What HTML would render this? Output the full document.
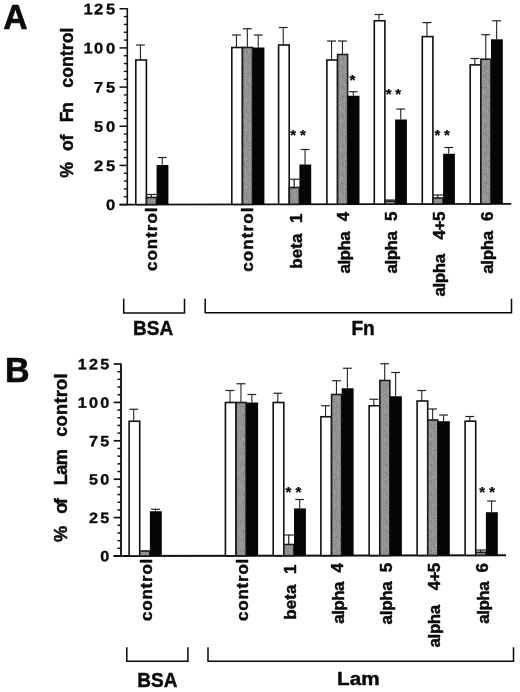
<!DOCTYPE html>
<html><head><meta charset="utf-8"><title>Figure</title>
<style>html,body{margin:0;padding:0;background:#fff;}svg{display:block;filter:blur(0.4px);}text{font-family:"Liberation Sans", Arial, Helvetica, sans-serif;font-weight:bold;fill:#0a0a0a;stroke:#0a0a0a;stroke-width:0.45px;stroke-linejoin:round;}</style>
</head><body>
<svg width="520" height="692" viewBox="0 0 520 692">
<defs><pattern id="gp" width="11" height="29" patternUnits="userSpaceOnUse"><rect width="11" height="29" fill="#949494"/><rect x="1" y="0" width="1" height="1" fill="#787878"/><rect x="2" y="0" width="1" height="1" fill="#7e7e7e"/><rect x="4" y="0" width="1" height="1" fill="#9a9a9a"/><rect x="5" y="0" width="1" height="1" fill="#989898"/><rect x="9" y="0" width="1" height="1" fill="#7e7e7e"/><rect x="2" y="1" width="1" height="1" fill="#989898"/><rect x="3" y="1" width="1" height="1" fill="#9a9a9a"/><rect x="4" y="1" width="1" height="1" fill="#848484"/><rect x="6" y="1" width="1" height="1" fill="#7e7e7e"/><rect x="10" y="1" width="1" height="1" fill="#9a9a9a"/><rect x="2" y="2" width="1" height="1" fill="#787878"/><rect x="0" y="3" width="1" height="1" fill="#9a9a9a"/><rect x="1" y="3" width="1" height="1" fill="#a0a0a0"/><rect x="7" y="3" width="1" height="1" fill="#989898"/><rect x="8" y="3" width="1" height="1" fill="#a6a6a6"/><rect x="9" y="3" width="1" height="1" fill="#868686"/><rect x="1" y="4" width="1" height="1" fill="#a6a6a6"/><rect x="6" y="4" width="1" height="1" fill="#7e7e7e"/><rect x="10" y="4" width="1" height="1" fill="#a0a0a0"/><rect x="6" y="5" width="1" height="1" fill="#868686"/><rect x="10" y="5" width="1" height="1" fill="#a0a0a0"/><rect x="0" y="6" width="1" height="1" fill="#9a9a9a"/><rect x="4" y="6" width="1" height="1" fill="#989898"/><rect x="3" y="7" width="1" height="1" fill="#848484"/><rect x="4" y="7" width="1" height="1" fill="#9a9a9a"/><rect x="5" y="7" width="1" height="1" fill="#848484"/><rect x="7" y="7" width="1" height="1" fill="#989898"/><rect x="0" y="8" width="1" height="1" fill="#787878"/><rect x="10" y="8" width="1" height="1" fill="#9a9a9a"/><rect x="1" y="9" width="1" height="1" fill="#787878"/><rect x="2" y="9" width="1" height="1" fill="#848484"/><rect x="6" y="9" width="1" height="1" fill="#9a9a9a"/><rect x="8" y="9" width="1" height="1" fill="#a0a0a0"/><rect x="1" y="10" width="1" height="1" fill="#868686"/><rect x="5" y="10" width="1" height="1" fill="#7e7e7e"/><rect x="0" y="11" width="1" height="1" fill="#a6a6a6"/><rect x="1" y="11" width="1" height="1" fill="#787878"/><rect x="5" y="11" width="1" height="1" fill="#a0a0a0"/><rect x="5" y="12" width="1" height="1" fill="#9a9a9a"/><rect x="0" y="13" width="1" height="1" fill="#787878"/><rect x="3" y="13" width="1" height="1" fill="#a6a6a6"/><rect x="0" y="14" width="1" height="1" fill="#9a9a9a"/><rect x="4" y="14" width="1" height="1" fill="#a6a6a6"/><rect x="6" y="14" width="1" height="1" fill="#7e7e7e"/><rect x="0" y="15" width="1" height="1" fill="#a6a6a6"/><rect x="1" y="15" width="1" height="1" fill="#989898"/><rect x="4" y="15" width="1" height="1" fill="#848484"/><rect x="5" y="15" width="1" height="1" fill="#848484"/><rect x="6" y="15" width="1" height="1" fill="#868686"/><rect x="8" y="15" width="1" height="1" fill="#868686"/><rect x="1" y="16" width="1" height="1" fill="#787878"/><rect x="4" y="16" width="1" height="1" fill="#848484"/><rect x="8" y="16" width="1" height="1" fill="#a0a0a0"/><rect x="9" y="16" width="1" height="1" fill="#9a9a9a"/><rect x="3" y="17" width="1" height="1" fill="#a6a6a6"/><rect x="10" y="17" width="1" height="1" fill="#848484"/><rect x="1" y="18" width="1" height="1" fill="#868686"/><rect x="5" y="18" width="1" height="1" fill="#848484"/><rect x="2" y="19" width="1" height="1" fill="#787878"/><rect x="4" y="21" width="1" height="1" fill="#7e7e7e"/><rect x="9" y="21" width="1" height="1" fill="#a0a0a0"/><rect x="1" y="22" width="1" height="1" fill="#a6a6a6"/><rect x="2" y="22" width="1" height="1" fill="#848484"/><rect x="4" y="22" width="1" height="1" fill="#7e7e7e"/><rect x="9" y="22" width="1" height="1" fill="#989898"/><rect x="3" y="23" width="1" height="1" fill="#a6a6a6"/><rect x="4" y="23" width="1" height="1" fill="#868686"/><rect x="6" y="23" width="1" height="1" fill="#a6a6a6"/><rect x="10" y="23" width="1" height="1" fill="#9a9a9a"/><rect x="1" y="24" width="1" height="1" fill="#a0a0a0"/><rect x="4" y="24" width="1" height="1" fill="#848484"/><rect x="5" y="25" width="1" height="1" fill="#7e7e7e"/><rect x="7" y="25" width="1" height="1" fill="#7e7e7e"/><rect x="9" y="25" width="1" height="1" fill="#9a9a9a"/><rect x="10" y="25" width="1" height="1" fill="#7e7e7e"/><rect x="5" y="26" width="1" height="1" fill="#9a9a9a"/><rect x="9" y="26" width="1" height="1" fill="#a0a0a0"/><rect x="1" y="27" width="1" height="1" fill="#868686"/><rect x="3" y="27" width="1" height="1" fill="#a6a6a6"/><rect x="6" y="27" width="1" height="1" fill="#787878"/><rect x="9" y="27" width="1" height="1" fill="#868686"/><rect x="8" y="28" width="1" height="1" fill="#9a9a9a"/></pattern></defs>
<rect width="520" height="692" fill="#fff"/>
<text x="3.2" y="28.7" font-size="34.6" style="stroke-width:0.7px" textLength="24.4" lengthAdjust="spacingAndGlyphs">A</text>
<line x1="127.30" y1="8.15" x2="127.30" y2="205.20" stroke="#111" stroke-width="1.6"/>
<line x1="119.60" y1="204.70" x2="511.30" y2="203.87" stroke="#111" stroke-width="1.7"/>
<line x1="119.50" y1="204.60" x2="127.30" y2="204.60" stroke="#111" stroke-width="1.5"/>
<line x1="123.80" y1="196.77" x2="127.30" y2="196.77" stroke="#111" stroke-width="1.35"/>
<line x1="123.80" y1="188.93" x2="127.30" y2="188.93" stroke="#111" stroke-width="1.35"/>
<line x1="123.80" y1="181.10" x2="127.30" y2="181.10" stroke="#111" stroke-width="1.35"/>
<line x1="123.80" y1="173.26" x2="127.30" y2="173.26" stroke="#111" stroke-width="1.35"/>
<line x1="119.50" y1="165.43" x2="127.30" y2="165.43" stroke="#111" stroke-width="1.5"/>
<line x1="123.80" y1="157.60" x2="127.30" y2="157.60" stroke="#111" stroke-width="1.35"/>
<line x1="123.80" y1="149.76" x2="127.30" y2="149.76" stroke="#111" stroke-width="1.35"/>
<line x1="123.80" y1="141.93" x2="127.30" y2="141.93" stroke="#111" stroke-width="1.35"/>
<line x1="123.80" y1="134.09" x2="127.30" y2="134.09" stroke="#111" stroke-width="1.35"/>
<line x1="119.50" y1="126.26" x2="127.30" y2="126.26" stroke="#111" stroke-width="1.5"/>
<line x1="123.80" y1="118.43" x2="127.30" y2="118.43" stroke="#111" stroke-width="1.35"/>
<line x1="123.80" y1="110.59" x2="127.30" y2="110.59" stroke="#111" stroke-width="1.35"/>
<line x1="123.80" y1="102.76" x2="127.30" y2="102.76" stroke="#111" stroke-width="1.35"/>
<line x1="123.80" y1="94.92" x2="127.30" y2="94.92" stroke="#111" stroke-width="1.35"/>
<line x1="119.50" y1="87.09" x2="127.30" y2="87.09" stroke="#111" stroke-width="1.5"/>
<line x1="123.80" y1="79.26" x2="127.30" y2="79.26" stroke="#111" stroke-width="1.35"/>
<line x1="123.80" y1="71.42" x2="127.30" y2="71.42" stroke="#111" stroke-width="1.35"/>
<line x1="123.80" y1="63.59" x2="127.30" y2="63.59" stroke="#111" stroke-width="1.35"/>
<line x1="123.80" y1="55.75" x2="127.30" y2="55.75" stroke="#111" stroke-width="1.35"/>
<line x1="119.50" y1="47.92" x2="127.30" y2="47.92" stroke="#111" stroke-width="1.5"/>
<line x1="123.80" y1="40.09" x2="127.30" y2="40.09" stroke="#111" stroke-width="1.35"/>
<line x1="123.80" y1="32.25" x2="127.30" y2="32.25" stroke="#111" stroke-width="1.35"/>
<line x1="123.80" y1="24.42" x2="127.30" y2="24.42" stroke="#111" stroke-width="1.35"/>
<line x1="123.80" y1="16.58" x2="127.30" y2="16.58" stroke="#111" stroke-width="1.35"/>
<line x1="119.50" y1="8.75" x2="127.30" y2="8.75" stroke="#111" stroke-width="1.5"/>
<text transform="translate(114.70 210.07) rotate(0.05) scale(1.0886 1)" x="-3.67" y="0" font-size="15.2" text-anchor="middle" style="stroke-width:0.33px">0</text>
<text transform="translate(114.70 170.90) rotate(0.05) scale(1.0886 1)" x="-14.70 -3.67" y="0" font-size="15.2" text-anchor="middle" style="stroke-width:0.33px">25</text>
<text transform="translate(114.70 131.73) rotate(0.05) scale(1.0886 1)" x="-14.70 -3.67" y="0" font-size="15.2" text-anchor="middle" style="stroke-width:0.33px">50</text>
<text transform="translate(114.70 92.56) rotate(0.05) scale(1.0886 1)" x="-14.70 -3.67" y="0" font-size="15.2" text-anchor="middle" style="stroke-width:0.33px">75</text>
<text transform="translate(114.70 53.39) rotate(0.05) scale(1.0886 1)" x="-24.53 -14.70 -3.67" y="0" font-size="15.2" text-anchor="middle" style="stroke-width:0.33px">100</text>
<text transform="translate(114.70 14.22) rotate(0.05) scale(1.0886 1)" x="-24.53 -14.70 -3.67" y="0" font-size="15.2" text-anchor="middle" style="stroke-width:0.33px">125</text>
<line x1="140.45" y1="60.00" x2="140.45" y2="45.00" stroke="#222" stroke-width="1.1"/>
<line x1="136.05" y1="45.00" x2="144.85" y2="45.00" stroke="#222" stroke-width="1.2"/>
<line x1="151.35" y1="197.50" x2="151.35" y2="194.50" stroke="#222" stroke-width="1.2"/>
<line x1="146.00" y1="194.50" x2="156.80" y2="194.50" stroke="#222" stroke-width="1.2"/>
<line x1="162.25" y1="165.00" x2="162.25" y2="157.50" stroke="#222" stroke-width="1.1"/>
<line x1="157.85" y1="157.50" x2="166.65" y2="157.50" stroke="#222" stroke-width="1.2"/>
<rect x="135.80" y="60.00" width="10.60" height="144.55" fill="#fff" stroke="#111" stroke-width="1.6"/>
<rect x="146.50" y="197.50" width="10.00" height="7.05" fill="url(#gp)" stroke="#1c1c1c" stroke-width="1.6"/>
<rect x="156.60" y="165.00" width="11.8" height="39.55" fill="#050505"/>
<line x1="236.45" y1="47.50" x2="236.45" y2="35.00" stroke="#222" stroke-width="1.1"/>
<line x1="232.05" y1="35.00" x2="240.85" y2="35.00" stroke="#222" stroke-width="1.2"/>
<line x1="247.35" y1="47.50" x2="247.35" y2="28.75" stroke="#222" stroke-width="1.1"/>
<line x1="242.95" y1="28.75" x2="251.75" y2="28.75" stroke="#222" stroke-width="1.2"/>
<line x1="258.25" y1="47.50" x2="258.25" y2="35.00" stroke="#222" stroke-width="1.1"/>
<line x1="253.85" y1="35.00" x2="262.65" y2="35.00" stroke="#222" stroke-width="1.2"/>
<rect x="231.80" y="47.50" width="10.60" height="156.87" fill="#fff" stroke="#111" stroke-width="1.6"/>
<rect x="242.50" y="47.50" width="10.00" height="156.87" fill="url(#gp)" stroke="#1c1c1c" stroke-width="1.6"/>
<rect x="252.60" y="47.50" width="11.8" height="156.87" fill="#050505"/>
<line x1="283.25" y1="45.00" x2="283.25" y2="27.50" stroke="#222" stroke-width="1.1"/>
<line x1="278.85" y1="27.50" x2="287.65" y2="27.50" stroke="#222" stroke-width="1.2"/>
<line x1="294.15" y1="187.50" x2="294.15" y2="179.25" stroke="#222" stroke-width="1.2"/>
<line x1="288.80" y1="179.25" x2="299.60" y2="179.25" stroke="#222" stroke-width="1.2"/>
<line x1="305.05" y1="164.50" x2="305.05" y2="149.50" stroke="#222" stroke-width="1.1"/>
<line x1="300.65" y1="149.50" x2="309.45" y2="149.50" stroke="#222" stroke-width="1.2"/>
<rect x="278.60" y="45.00" width="10.60" height="159.28" fill="#fff" stroke="#111" stroke-width="1.6"/>
<rect x="289.30" y="187.50" width="10.00" height="16.78" fill="url(#gp)" stroke="#1c1c1c" stroke-width="1.6"/>
<rect x="299.40" y="164.50" width="11.8" height="39.78" fill="#050505"/>
<line x1="331.55" y1="60.00" x2="331.55" y2="41.00" stroke="#222" stroke-width="1.1"/>
<line x1="327.15" y1="41.00" x2="335.95" y2="41.00" stroke="#222" stroke-width="1.2"/>
<line x1="342.45" y1="54.50" x2="342.45" y2="41.00" stroke="#222" stroke-width="1.1"/>
<line x1="338.05" y1="41.00" x2="346.85" y2="41.00" stroke="#222" stroke-width="1.2"/>
<line x1="353.35" y1="95.75" x2="353.35" y2="91.75" stroke="#222" stroke-width="1.1"/>
<line x1="348.95" y1="91.75" x2="357.75" y2="91.75" stroke="#222" stroke-width="1.2"/>
<rect x="326.90" y="60.00" width="10.60" height="144.19" fill="#fff" stroke="#111" stroke-width="1.6"/>
<rect x="337.60" y="54.50" width="10.00" height="149.69" fill="url(#gp)" stroke="#1c1c1c" stroke-width="1.6"/>
<rect x="347.70" y="95.75" width="11.8" height="108.44" fill="#050505"/>
<line x1="378.95" y1="20.75" x2="378.95" y2="14.50" stroke="#222" stroke-width="1.1"/>
<line x1="374.55" y1="14.50" x2="383.35" y2="14.50" stroke="#222" stroke-width="1.2"/>
<line x1="389.85" y1="201.25" x2="389.85" y2="200.00" stroke="#222" stroke-width="1.2"/>
<line x1="384.50" y1="200.00" x2="395.30" y2="200.00" stroke="#222" stroke-width="1.2"/>
<line x1="400.75" y1="119.50" x2="400.75" y2="109.00" stroke="#222" stroke-width="1.1"/>
<line x1="396.35" y1="109.00" x2="405.15" y2="109.00" stroke="#222" stroke-width="1.2"/>
<rect x="374.30" y="20.75" width="10.60" height="183.35" fill="#fff" stroke="#111" stroke-width="1.6"/>
<rect x="385.00" y="201.25" width="10.00" height="2.85" fill="url(#gp)" stroke="#1c1c1c" stroke-width="1.6"/>
<rect x="395.10" y="119.50" width="11.8" height="84.60" fill="#050505"/>
<line x1="426.95" y1="36.60" x2="426.95" y2="22.60" stroke="#222" stroke-width="1.1"/>
<line x1="422.55" y1="22.60" x2="431.35" y2="22.60" stroke="#222" stroke-width="1.2"/>
<line x1="437.85" y1="198.00" x2="437.85" y2="195.00" stroke="#222" stroke-width="1.2"/>
<line x1="432.50" y1="195.00" x2="443.30" y2="195.00" stroke="#222" stroke-width="1.2"/>
<line x1="448.75" y1="153.75" x2="448.75" y2="147.50" stroke="#222" stroke-width="1.1"/>
<line x1="444.35" y1="147.50" x2="453.15" y2="147.50" stroke="#222" stroke-width="1.2"/>
<rect x="422.30" y="36.60" width="10.60" height="167.41" fill="#fff" stroke="#111" stroke-width="1.6"/>
<rect x="433.00" y="198.00" width="10.00" height="6.01" fill="url(#gp)" stroke="#1c1c1c" stroke-width="1.6"/>
<rect x="443.10" y="153.75" width="11.8" height="50.26" fill="#050505"/>
<line x1="474.85" y1="64.90" x2="474.85" y2="58.50" stroke="#222" stroke-width="1.1"/>
<line x1="470.45" y1="58.50" x2="479.25" y2="58.50" stroke="#222" stroke-width="1.2"/>
<line x1="485.75" y1="59.20" x2="485.75" y2="34.70" stroke="#222" stroke-width="1.1"/>
<line x1="481.35" y1="34.70" x2="490.15" y2="34.70" stroke="#222" stroke-width="1.2"/>
<line x1="496.65" y1="39.30" x2="496.65" y2="20.80" stroke="#222" stroke-width="1.1"/>
<line x1="492.25" y1="20.80" x2="501.05" y2="20.80" stroke="#222" stroke-width="1.2"/>
<rect x="470.20" y="64.90" width="10.60" height="139.02" fill="#fff" stroke="#111" stroke-width="1.6"/>
<rect x="480.90" y="59.20" width="10.00" height="144.72" fill="url(#gp)" stroke="#1c1c1c" stroke-width="1.6"/>
<rect x="491.00" y="39.30" width="11.8" height="164.62" fill="#050505"/>
<text x="293.25" y="139.70" font-size="15" text-anchor="middle" style="stroke-width:0.25px">*</text>
<text x="303.00" y="139.70" font-size="15" text-anchor="middle" style="stroke-width:0.25px">*</text>
<text x="352.30" y="85.45" font-size="15" text-anchor="middle" style="stroke-width:0.25px">*</text>
<text x="388.75" y="99.45" font-size="15" text-anchor="middle" style="stroke-width:0.25px">*</text>
<text x="398.20" y="99.45" font-size="15" text-anchor="middle" style="stroke-width:0.25px">*</text>
<text x="437.50" y="139.70" font-size="15" text-anchor="middle" style="stroke-width:0.25px">*</text>
<text x="447.00" y="139.70" font-size="15" text-anchor="middle" style="stroke-width:0.25px">*</text>
<text transform="translate(72.95,177.75) rotate(-90)" font-size="17.6">%</text>
<text transform="translate(72.95,151.12) rotate(-90)" font-size="17.6" textLength="16.41" lengthAdjust="spacing">of</text>
<text transform="translate(72.79,122.35) rotate(-90)" font-size="17.6" textLength="20.01" lengthAdjust="spacing">Fn</text>
<text transform="translate(72.79,87.66) rotate(-90)" font-size="17.6" textLength="60.12" lengthAdjust="spacing">control</text>
<text transform="translate(156.94,271.01) rotate(-90)" font-size="17.0" textLength="63.52" lengthAdjust="spacing">control</text>
<text transform="translate(252.79,271.77) rotate(-90)" font-size="17.0" textLength="64.28" lengthAdjust="spacing">control</text>
<text transform="translate(301.79,268.75) rotate(-90)" font-size="17.0" textLength="35.25" lengthAdjust="spacing">beta</text>
<text transform="translate(301.79,223.00) rotate(-90)" font-size="17.0">1</text>
<text transform="translate(349.64,273.50) rotate(-90)" font-size="17.0" textLength="42.27" lengthAdjust="spacing">alpha</text>
<text transform="translate(348.64,221.13) rotate(-90)" font-size="17.0">4</text>
<text transform="translate(396.79,273.50) rotate(-90)" font-size="17.0" textLength="42.50" lengthAdjust="spacing">alpha</text>
<text transform="translate(396.61,221.03) rotate(-90)" font-size="17.0">5</text>
<text transform="translate(444.64,296.45) rotate(-90)" font-size="17.0" textLength="42.57" lengthAdjust="spacing">alpha</text>
<text transform="translate(444.50,239.51) rotate(-90)" font-size="17.0" textLength="28.01" lengthAdjust="spacing">4+5</text>
<text transform="translate(492.64,273.85) rotate(-90)" font-size="17.0" textLength="43.04" lengthAdjust="spacing">alpha</text>
<text transform="translate(492.76,220.92) rotate(-90)" font-size="17.0">6</text>
<polyline points="123.70,298.80 123.70,312.90 184.50,312.90 184.50,298.80" fill="none" stroke="#080808" stroke-width="1.5"/>
<polyline points="205.20,298.80 205.20,312.70 511.50,312.70 511.50,298.80" fill="none" stroke="#080808" stroke-width="1.5"/>
<text x="133.00" y="335.10" font-size="20" text-anchor="start" textLength="40.20" lengthAdjust="spacingAndGlyphs">BSA</text>
<text x="351.40" y="334.60" font-size="19.6" text-anchor="start" textLength="23.40" lengthAdjust="spacingAndGlyphs">Fn</text>
<text x="5.0" y="382.2" font-size="35" style="stroke-width:0.7px" textLength="24.6" lengthAdjust="spacingAndGlyphs">B</text>
<line x1="121.00" y1="363.40" x2="121.00" y2="556.60" stroke="#111" stroke-width="1.8399999999999999"/>
<line x1="113.50" y1="556.10" x2="506.00" y2="555.27" stroke="#111" stroke-width="1.9549999999999998"/>
<line x1="113.70" y1="556.00" x2="121.00" y2="556.00" stroke="#111" stroke-width="1.7249999999999999"/>
<line x1="117.50" y1="548.32" x2="121.00" y2="548.32" stroke="#111" stroke-width="1.5525"/>
<line x1="117.50" y1="540.64" x2="121.00" y2="540.64" stroke="#111" stroke-width="1.5525"/>
<line x1="117.50" y1="532.96" x2="121.00" y2="532.96" stroke="#111" stroke-width="1.5525"/>
<line x1="117.50" y1="525.28" x2="121.00" y2="525.28" stroke="#111" stroke-width="1.5525"/>
<line x1="113.70" y1="517.60" x2="121.00" y2="517.60" stroke="#111" stroke-width="1.7249999999999999"/>
<line x1="117.50" y1="509.92" x2="121.00" y2="509.92" stroke="#111" stroke-width="1.5525"/>
<line x1="117.50" y1="502.24" x2="121.00" y2="502.24" stroke="#111" stroke-width="1.5525"/>
<line x1="117.50" y1="494.56" x2="121.00" y2="494.56" stroke="#111" stroke-width="1.5525"/>
<line x1="117.50" y1="486.88" x2="121.00" y2="486.88" stroke="#111" stroke-width="1.5525"/>
<line x1="113.70" y1="479.20" x2="121.00" y2="479.20" stroke="#111" stroke-width="1.7249999999999999"/>
<line x1="117.50" y1="471.52" x2="121.00" y2="471.52" stroke="#111" stroke-width="1.5525"/>
<line x1="117.50" y1="463.84" x2="121.00" y2="463.84" stroke="#111" stroke-width="1.5525"/>
<line x1="117.50" y1="456.16" x2="121.00" y2="456.16" stroke="#111" stroke-width="1.5525"/>
<line x1="117.50" y1="448.48" x2="121.00" y2="448.48" stroke="#111" stroke-width="1.5525"/>
<line x1="113.70" y1="440.80" x2="121.00" y2="440.80" stroke="#111" stroke-width="1.7249999999999999"/>
<line x1="117.50" y1="433.12" x2="121.00" y2="433.12" stroke="#111" stroke-width="1.5525"/>
<line x1="117.50" y1="425.44" x2="121.00" y2="425.44" stroke="#111" stroke-width="1.5525"/>
<line x1="117.50" y1="417.76" x2="121.00" y2="417.76" stroke="#111" stroke-width="1.5525"/>
<line x1="117.50" y1="410.08" x2="121.00" y2="410.08" stroke="#111" stroke-width="1.5525"/>
<line x1="113.70" y1="402.40" x2="121.00" y2="402.40" stroke="#111" stroke-width="1.7249999999999999"/>
<line x1="117.50" y1="394.72" x2="121.00" y2="394.72" stroke="#111" stroke-width="1.5525"/>
<line x1="117.50" y1="387.04" x2="121.00" y2="387.04" stroke="#111" stroke-width="1.5525"/>
<line x1="117.50" y1="379.36" x2="121.00" y2="379.36" stroke="#111" stroke-width="1.5525"/>
<line x1="117.50" y1="371.68" x2="121.00" y2="371.68" stroke="#111" stroke-width="1.5525"/>
<line x1="113.70" y1="364.00" x2="121.00" y2="364.00" stroke="#111" stroke-width="1.7249999999999999"/>
<text transform="translate(108.60 561.36) rotate(0.05) scale(1.0864 1)" x="-3.49" y="0" font-size="14.9" text-anchor="middle" style="stroke-width:0.33px">0</text>
<text transform="translate(108.60 522.96) rotate(0.05) scale(1.0864 1)" x="-13.98 -3.49" y="0" font-size="14.9" text-anchor="middle" style="stroke-width:0.33px">25</text>
<text transform="translate(108.60 484.56) rotate(0.05) scale(1.0864 1)" x="-13.98 -3.49" y="0" font-size="14.9" text-anchor="middle" style="stroke-width:0.33px">50</text>
<text transform="translate(108.60 446.16) rotate(0.05) scale(1.0864 1)" x="-13.98 -3.49" y="0" font-size="14.9" text-anchor="middle" style="stroke-width:0.33px">75</text>
<text transform="translate(108.60 407.76) rotate(0.05) scale(1.0864 1)" x="-24.20 -13.98 -3.49" y="0" font-size="14.9" text-anchor="middle" style="stroke-width:0.33px">100</text>
<text transform="translate(108.60 369.36) rotate(0.05) scale(1.0864 1)" x="-24.20 -13.98 -3.49" y="0" font-size="14.9" text-anchor="middle" style="stroke-width:0.33px">125</text>
<line x1="133.75" y1="421.25" x2="133.75" y2="409.25" stroke="#222" stroke-width="1.1"/>
<line x1="129.35" y1="409.25" x2="138.15" y2="409.25" stroke="#222" stroke-width="1.2"/>
<line x1="155.55" y1="511.25" x2="155.55" y2="509.25" stroke="#222" stroke-width="1.1"/>
<line x1="151.15" y1="509.25" x2="159.95" y2="509.25" stroke="#222" stroke-width="1.2"/>
<rect x="129.10" y="421.25" width="10.60" height="134.71" fill="#fff" stroke="#111" stroke-width="1.6"/>
<rect x="139.80" y="551.00" width="10.00" height="4.96" fill="url(#gp)" stroke="#1c1c1c" stroke-width="1.6"/>
<rect x="149.90" y="511.25" width="11.9" height="44.71" fill="#050505"/>
<line x1="230.05" y1="402.50" x2="230.05" y2="390.50" stroke="#222" stroke-width="1.1"/>
<line x1="225.65" y1="390.50" x2="234.45" y2="390.50" stroke="#222" stroke-width="1.2"/>
<line x1="240.95" y1="402.50" x2="240.95" y2="383.75" stroke="#222" stroke-width="1.1"/>
<line x1="236.55" y1="383.75" x2="245.35" y2="383.75" stroke="#222" stroke-width="1.2"/>
<line x1="251.85" y1="402.50" x2="251.85" y2="394.50" stroke="#222" stroke-width="1.1"/>
<line x1="247.45" y1="394.50" x2="256.25" y2="394.50" stroke="#222" stroke-width="1.2"/>
<rect x="225.40" y="402.50" width="10.60" height="153.27" fill="#fff" stroke="#111" stroke-width="1.6"/>
<rect x="236.10" y="402.50" width="10.00" height="153.27" fill="url(#gp)" stroke="#1c1c1c" stroke-width="1.6"/>
<rect x="246.20" y="402.50" width="11.9" height="153.27" fill="#050505"/>
<line x1="277.85" y1="402.50" x2="277.85" y2="393.25" stroke="#222" stroke-width="1.1"/>
<line x1="273.45" y1="393.25" x2="282.25" y2="393.25" stroke="#222" stroke-width="1.2"/>
<line x1="288.75" y1="544.50" x2="288.75" y2="535.00" stroke="#222" stroke-width="1.2"/>
<line x1="283.40" y1="535.00" x2="294.20" y2="535.00" stroke="#222" stroke-width="1.2"/>
<line x1="299.65" y1="508.40" x2="299.65" y2="499.50" stroke="#222" stroke-width="1.1"/>
<line x1="295.25" y1="499.50" x2="304.05" y2="499.50" stroke="#222" stroke-width="1.2"/>
<rect x="273.20" y="402.50" width="10.60" height="153.18" fill="#fff" stroke="#111" stroke-width="1.6"/>
<rect x="283.90" y="544.50" width="10.00" height="11.18" fill="url(#gp)" stroke="#1c1c1c" stroke-width="1.6"/>
<rect x="294.00" y="508.40" width="11.9" height="47.28" fill="#050505"/>
<line x1="325.55" y1="416.75" x2="325.55" y2="405.75" stroke="#222" stroke-width="1.1"/>
<line x1="321.15" y1="405.75" x2="329.95" y2="405.75" stroke="#222" stroke-width="1.2"/>
<line x1="336.45" y1="394.50" x2="336.45" y2="380.75" stroke="#222" stroke-width="1.1"/>
<line x1="332.05" y1="380.75" x2="340.85" y2="380.75" stroke="#222" stroke-width="1.2"/>
<line x1="347.35" y1="388.25" x2="347.35" y2="368.25" stroke="#222" stroke-width="1.1"/>
<line x1="342.95" y1="368.25" x2="351.75" y2="368.25" stroke="#222" stroke-width="1.2"/>
<rect x="320.90" y="416.75" width="10.60" height="138.84" fill="#fff" stroke="#111" stroke-width="1.6"/>
<rect x="331.60" y="394.50" width="10.00" height="161.09" fill="url(#gp)" stroke="#1c1c1c" stroke-width="1.6"/>
<rect x="341.70" y="388.25" width="11.9" height="167.34" fill="#050505"/>
<line x1="373.80" y1="405.75" x2="373.80" y2="399.25" stroke="#222" stroke-width="1.1"/>
<line x1="369.40" y1="399.25" x2="378.20" y2="399.25" stroke="#222" stroke-width="1.2"/>
<line x1="384.70" y1="380.50" x2="384.70" y2="363.75" stroke="#222" stroke-width="1.1"/>
<line x1="380.30" y1="363.75" x2="389.10" y2="363.75" stroke="#222" stroke-width="1.2"/>
<line x1="395.60" y1="396.25" x2="395.60" y2="372.50" stroke="#222" stroke-width="1.1"/>
<line x1="391.20" y1="372.50" x2="400.00" y2="372.50" stroke="#222" stroke-width="1.2"/>
<rect x="369.15" y="405.75" width="10.60" height="149.75" fill="#fff" stroke="#111" stroke-width="1.6"/>
<rect x="379.85" y="380.50" width="10.00" height="175.00" fill="url(#gp)" stroke="#1c1c1c" stroke-width="1.6"/>
<rect x="389.95" y="396.25" width="11.9" height="159.25" fill="#050505"/>
<line x1="421.75" y1="401.00" x2="421.75" y2="390.50" stroke="#222" stroke-width="1.1"/>
<line x1="417.35" y1="390.50" x2="426.15" y2="390.50" stroke="#222" stroke-width="1.2"/>
<line x1="432.65" y1="420.00" x2="432.65" y2="409.00" stroke="#222" stroke-width="1.1"/>
<line x1="428.25" y1="409.00" x2="437.05" y2="409.00" stroke="#222" stroke-width="1.2"/>
<line x1="443.55" y1="421.20" x2="443.55" y2="415.00" stroke="#222" stroke-width="1.1"/>
<line x1="439.15" y1="415.00" x2="447.95" y2="415.00" stroke="#222" stroke-width="1.2"/>
<rect x="417.10" y="401.00" width="10.60" height="154.41" fill="#fff" stroke="#111" stroke-width="1.6"/>
<rect x="427.80" y="420.00" width="10.00" height="135.41" fill="url(#gp)" stroke="#1c1c1c" stroke-width="1.6"/>
<rect x="437.90" y="421.20" width="11.9" height="134.21" fill="#050505"/>
<line x1="469.75" y1="421.20" x2="469.75" y2="416.50" stroke="#222" stroke-width="1.1"/>
<line x1="465.35" y1="416.50" x2="474.15" y2="416.50" stroke="#222" stroke-width="1.2"/>
<line x1="480.65" y1="552.30" x2="480.65" y2="550.00" stroke="#222" stroke-width="1.2"/>
<line x1="475.30" y1="550.00" x2="486.10" y2="550.00" stroke="#222" stroke-width="1.2"/>
<line x1="491.55" y1="512.20" x2="491.55" y2="501.00" stroke="#222" stroke-width="1.1"/>
<line x1="487.15" y1="501.00" x2="495.95" y2="501.00" stroke="#222" stroke-width="1.2"/>
<rect x="465.10" y="421.20" width="10.60" height="134.12" fill="#fff" stroke="#111" stroke-width="1.6"/>
<rect x="475.80" y="552.30" width="10.00" height="3.02" fill="url(#gp)" stroke="#1c1c1c" stroke-width="1.6"/>
<rect x="485.90" y="512.20" width="11.9" height="43.12" fill="#050505"/>
<text x="288.50" y="497.05" font-size="15" text-anchor="middle" style="stroke-width:0.25px">*</text>
<text x="298.50" y="497.05" font-size="15" text-anchor="middle" style="stroke-width:0.25px">*</text>
<text x="482.20" y="496.85" font-size="15" text-anchor="middle" style="stroke-width:0.25px">*</text>
<text x="492.10" y="496.85" font-size="15" text-anchor="middle" style="stroke-width:0.25px">*</text>
<text transform="translate(66.65,541.89) rotate(-90)" font-size="18.2">%</text>
<text transform="translate(66.65,513.65) rotate(-90)" font-size="18.2" textLength="15.51" lengthAdjust="spacing">of</text>
<text transform="translate(66.64,485.26) rotate(-90)" font-size="18.2" textLength="36.27" lengthAdjust="spacing">Lam</text>
<text transform="translate(66.64,436.77) rotate(-90)" font-size="18.2" textLength="63.37" lengthAdjust="spacing">control</text>
<text transform="translate(151.74,620.91) rotate(-90)" font-size="17.0" textLength="62.26" lengthAdjust="spacing">control</text>
<text transform="translate(247.84,620.91) rotate(-90)" font-size="17.0" textLength="62.26" lengthAdjust="spacing">control</text>
<text transform="translate(295.79,619.65) rotate(-90)" font-size="17.0" textLength="35.00" lengthAdjust="spacing">beta</text>
<text transform="translate(295.79,574.05) rotate(-90)" font-size="17.0">1</text>
<text transform="translate(343.94,623.70) rotate(-90)" font-size="17.0" textLength="42.17" lengthAdjust="spacing">alpha</text>
<text transform="translate(342.94,572.43) rotate(-90)" font-size="17.0">4</text>
<text transform="translate(391.79,624.40) rotate(-90)" font-size="17.0" textLength="43.17" lengthAdjust="spacing">alpha</text>
<text transform="translate(391.69,572.36) rotate(-90)" font-size="17.0">5</text>
<text transform="translate(439.94,647.40) rotate(-90)" font-size="17.0" textLength="42.67" lengthAdjust="spacing">alpha</text>
<text transform="translate(439.64,590.35) rotate(-90)" font-size="17.0" textLength="27.62" lengthAdjust="spacing">4+5</text>
<text transform="translate(488.54,623.70) rotate(-90)" font-size="17.0" textLength="42.42" lengthAdjust="spacing">alpha</text>
<text transform="translate(487.55,572.60) rotate(-90)" font-size="17.0">6</text>
<polyline points="126.80,647.20 126.80,661.30 187.90,661.30 187.90,647.20" fill="none" stroke="#080808" stroke-width="1.5"/>
<polyline points="208.00,647.20 208.00,661.30 513.50,661.30 513.50,647.20" fill="none" stroke="#080808" stroke-width="1.5"/>
<text x="137.30" y="687.00" font-size="20" text-anchor="start" textLength="40.20" lengthAdjust="spacingAndGlyphs">BSA</text>
<text x="337.00" y="685.30" font-size="19.1" text-anchor="start" textLength="42.60" lengthAdjust="spacingAndGlyphs">Lam</text>
</svg></body></html>
